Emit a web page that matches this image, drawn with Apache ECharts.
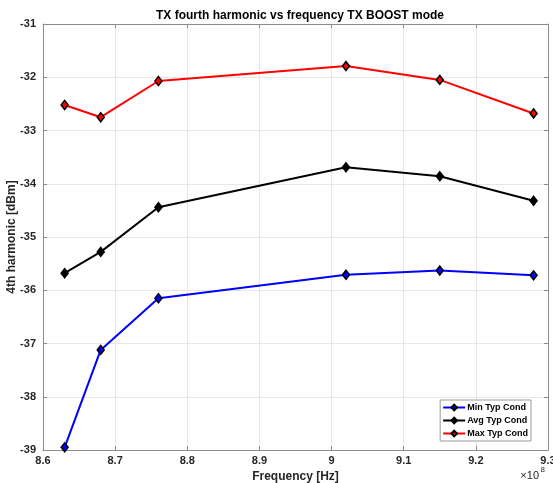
<!DOCTYPE html>
<html>
<head>
<meta charset="utf-8">
<script src="https://cdn.jsdelivr.net/npm/echarts@6/dist/echarts.min.js"></script>
<style>
html,body{margin:0;padding:0;background:#fff;}
#main{width:553px;height:483px;}
</style>
</head>
<body>
<div id="main"></div>
<script>
// frequencies in Hz
var freqs = [8.63e8, 8.68e8, 8.76e8, 9.02e8, 9.15e8, 9.28e8];
var minCond = [-38.95, -37.12, -36.15, -35.71, -35.63, -35.72];
var avgCond = [-35.68, -35.28, -34.44, -33.69, -33.86, -34.32];
var maxCond = [-32.52, -32.75, -32.07, -31.79, -32.05, -32.68];
var seriesNames = ['Min Typ Cond', 'Avg Typ Cond', 'Max Typ Cond'];
var seriesColors = ['#0000ff', '#000000', '#ff0000'];

var myChart = echarts.init(document.getElementById('main'));

function pairs(vals){
    return freqs.map(function(f, i){ return [f, vals[i]]; });
}

var font = 'Liberation Sans, Arial, sans-serif';
var axisCol = '#8c8c8c';
var txtCol = '#262626';

var common = {
    type: 'value',
    axisLine: {show: true, lineStyle: {color: axisCol, width: 1}},
    axisTick: {show: true, inside: true, length: 4, lineStyle: {color: axisCol}},
    splitLine: {show: false}
};

var option = {
    animation: false,
    backgroundColor: '#fff',
    title: {
        text: 'TX fourth harmonic vs frequency TX BOOST mode',
        left: 295, top: 5, textAlign: 'center',
        textStyle: {fontFamily: font, fontSize: 12, fontWeight: 'bold', color: '#000'}
    },
    grid: {left: 43, right: 5, top: 24, bottom: 33, outerBoundsMode: 'none', containLabel: false},
    legend: {
        orient: 'vertical',
        right: 22, bottom: 42,
        itemWidth: 22, itemHeight: 7, itemGap: 4,
        padding: [3, 3, 3, 2],
        backgroundColor: '#fff',
        borderColor: '#9a9a9a', borderWidth: 1,
        textStyle: {fontFamily: font, fontSize: 9, fontWeight: 'bold', color: '#000', padding: [0,0,0,-3]},
        data: seriesNames
    },
    xAxis: [
        Object.assign({}, common, {
            min: 8.6e8, max: 9.3e8, interval: 0.1e8,
            name: 'Frequency [Hz]', nameLocation: 'middle', nameGap: 20,
            nameTextStyle: {fontFamily: font, fontSize: 12, fontWeight: 'bold', color: txtCol},
            axisLabel: {
                fontFamily: font, fontSize: 11, fontWeight: 'bold', color: txtCol, margin: 5,
                formatter: function(v){ return String(Math.round(v / 1e6) / 100); }
            },
            splitLine: {show: true, lineStyle: {color: '#e6e6e6', width: 1}}
        }),
        Object.assign({}, common, {
            position: 'top', min: 8.6e8, max: 9.3e8, interval: 0.1e8,
            axisLabel: {show: false}
        })
    ],
    yAxis: [
        Object.assign({}, common, {
            min: -39, max: -31, interval: 1,
            name: '4th harmonic [dBm]', nameLocation: 'middle', nameGap: 25,
            nameMoveOverlap: false,
            nameTextStyle: {fontFamily: font, fontSize: 12, fontWeight: 'bold', color: txtCol},
            axisLabel: {fontFamily: font, fontSize: 11, fontWeight: 'bold', color: txtCol, margin: 7},
            splitLine: {show: true, lineStyle: {color: '#e6e6e6', width: 1}}
        }),
        Object.assign({}, common, {
            position: 'right', min: -39, max: -31, interval: 1,
            axisLabel: {show: false}
        })
    ],
    graphic: [{
        type: 'text', right: 14, bottom: 2,
        style: {text: '\u00d710', font: '11px ' + font, fill: txtCol}
    }, {
        type: 'text', right: 8, bottom: 9,
        style: {text: '8', font: '8px ' + font, fill: txtCol}
    }],
    series: [minCond, avgCond, maxCond].map(function(vals, i){
        return {
            name: seriesNames[i],
            type: 'line',
            data: pairs(vals),
            symbol: 'diamond',
            symbolSize: [7, 9],
            lineStyle: {color: seriesColors[i], width: 2},
            itemStyle: {color: seriesColors[i], borderColor: '#000', borderWidth: 1.5},
            z: 3 + i
        };
    })
};

myChart.setOption(option);
</script>
</body>
</html>
